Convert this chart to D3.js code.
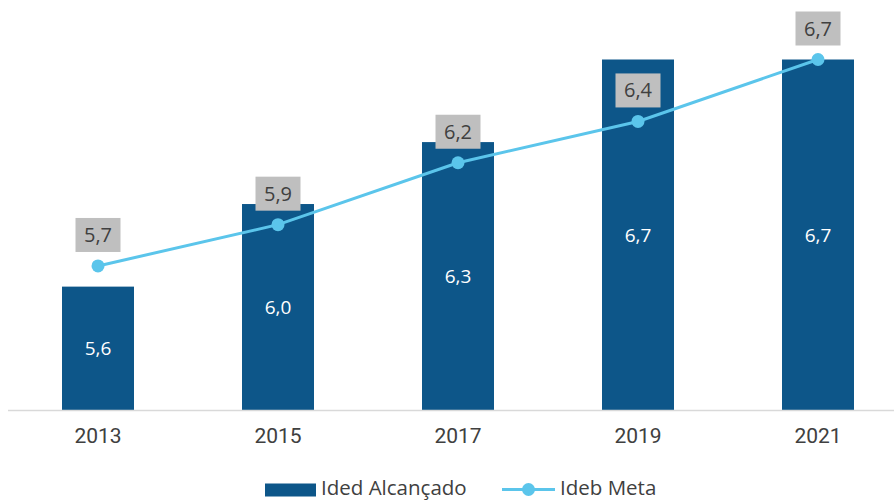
<!DOCTYPE html>
<html>
<head>
<meta charset="utf-8">
<script src="https://cdn.jsdelivr.net/npm/d3@7"></script>
<style>
  body { margin: 0; background: #fff; }
  svg { display: block; }
</style>
</head>
<body>
<div id="chart"></div>
<script>
const WIDTH = 894;
const HEIGHT = 500;

const years = ["2013", "2015", "2017", "2019", "2021"];
const idedAlcancado = [5.6, 6.0, 6.3, 6.7, 6.7];
const idebMeta = [5.7, 5.9, 6.2, 6.4, 6.7];
const seriesNames = ["Ided Alcançado", "Ideb Meta"];

const BAR_COLOR = "#0d5689";
const LINE_COLOR = "#5bc5eb";
const fmt = v => d3.format(".1f")(v).replace(".", ",");

let svg = d3.select("#chart").append("svg")
    .attr("width", WIDTH)
    .attr("height", HEIGHT);

// setup x
let xScale = d3.scaleBand()
    .domain(years)
    .range([8, 908])
    .paddingInner(0.6)
    .paddingOuter(0.3);
// setup y
let yScale = d3.scaleLinear()
    .domain([5.0, 6.7])
    .range([410.5, 59.5]);

// bars
let barsG = svg.append("g").attr("class", "bars");
barsG.selectAll("rect")
    .data(idedAlcancado)
  .enter().append("rect")
    .attr("x", (d, i) => xScale(years[i]))
    .attr("y", d => yScale(d))
    .attr("width", xScale.bandwidth())
    .attr("height", d => yScale(5.0) - yScale(d))
    .attr("fill", BAR_COLOR);

barsG.selectAll("text")
    .data(idedAlcancado)
  .enter().append("text")
    .attr("x", (d, i) => xScale(years[i]) + xScale.bandwidth() / 2)
    .attr("y", d => (yScale(d) + yScale(5.0)) / 2)
    .attr("dy", "0.35em")
    .attr("text-anchor", "middle")
    .style("font-family", "'Open Sans', sans-serif")
    .style("font-size", "19px")
    .style("fill", "#ffffff")
    .text(d => fmt(d));

// x axis
let xAxis = d3.axisBottom(xScale).tickSize(0).tickPadding(18);
let axisG = svg.append("g")
    .attr("class", "x axis")
    .attr("transform", "translate(0,410.5)")
    .call(xAxis);
axisG.select(".domain").remove();
axisG.append("line")
    .attr("x1", 8)
    .attr("x2", WIDTH)
    .attr("stroke", "#d9d9d9")
    .attr("stroke-width", 1.5);
axisG.selectAll(".tick text")
    .style("font-family", "Roboto, sans-serif")
    .style("font-size", "21px")
    .style("fill", "#404040");

// line
let cx = (d, i) => xScale(years[i]) + xScale.bandwidth() / 2;
let line = d3.line()
    .x(cx)
    .y(d => yScale(d));
let lineG = svg.append("g").attr("class", "meta");
lineG.append("path")
    .datum(idebMeta)
    .attr("d", line)
    .attr("fill", "none")
    .attr("stroke", LINE_COLOR)
    .attr("stroke-width", 3);
lineG.selectAll("circle")
    .data(idebMeta)
  .enter().append("circle")
    .attr("cx", cx)
    .attr("cy", d => yScale(d))
    .attr("r", 6.5)
    .attr("fill", LINE_COLOR);

// grey label boxes
let labelG = lineG.selectAll("g.label")
    .data(idebMeta)
  .enter().append("g")
    .attr("class", "label")
    .attr("transform", (d, i) => "translate(" + cx(d, i) + "," + (yScale(d) - 31) + ")");
labelG.append("rect")
    .attr("x", -22.5)
    .attr("y", -17)
    .attr("width", 45)
    .attr("height", 34)
    .attr("fill", "#bfbfbf");
labelG.append("text")
    .attr("text-anchor", "middle")
    .attr("dy", "0.35em")
    .style("font-family", "'Open Sans', sans-serif")
    .style("font-size", "20px")
    .style("fill", "#404040")
    .text(d => fmt(d));

// legend
let legend = svg.append("g").attr("class", "legend");
legend.append("rect")
    .attr("x", 265)
    .attr("y", 483.5)
    .attr("width", 51)
    .attr("height", 13)
    .attr("fill", BAR_COLOR);
legend.append("text")
    .attr("x", 321)
    .attr("y", 494.5)
    .style("font-family", "'Open Sans', sans-serif")
    .style("font-size", "20.5px")
    .style("fill", "#404040")
    .text(seriesNames[0]);
legend.append("line")
    .attr("x1", 502)
    .attr("x2", 555)
    .attr("y1", 489.5)
    .attr("y2", 489.5)
    .attr("stroke", LINE_COLOR)
    .attr("stroke-width", 3);
legend.append("circle")
    .attr("cx", 528.5)
    .attr("cy", 489.5)
    .attr("r", 6.5)
    .attr("fill", LINE_COLOR);
legend.append("text")
    .attr("x", 560)
    .attr("y", 494.5)
    .style("font-family", "'Open Sans', sans-serif")
    .style("font-size", "20.5px")
    .style("fill", "#404040")
    .text(seriesNames[1]);
</script>
</body>
</html>
